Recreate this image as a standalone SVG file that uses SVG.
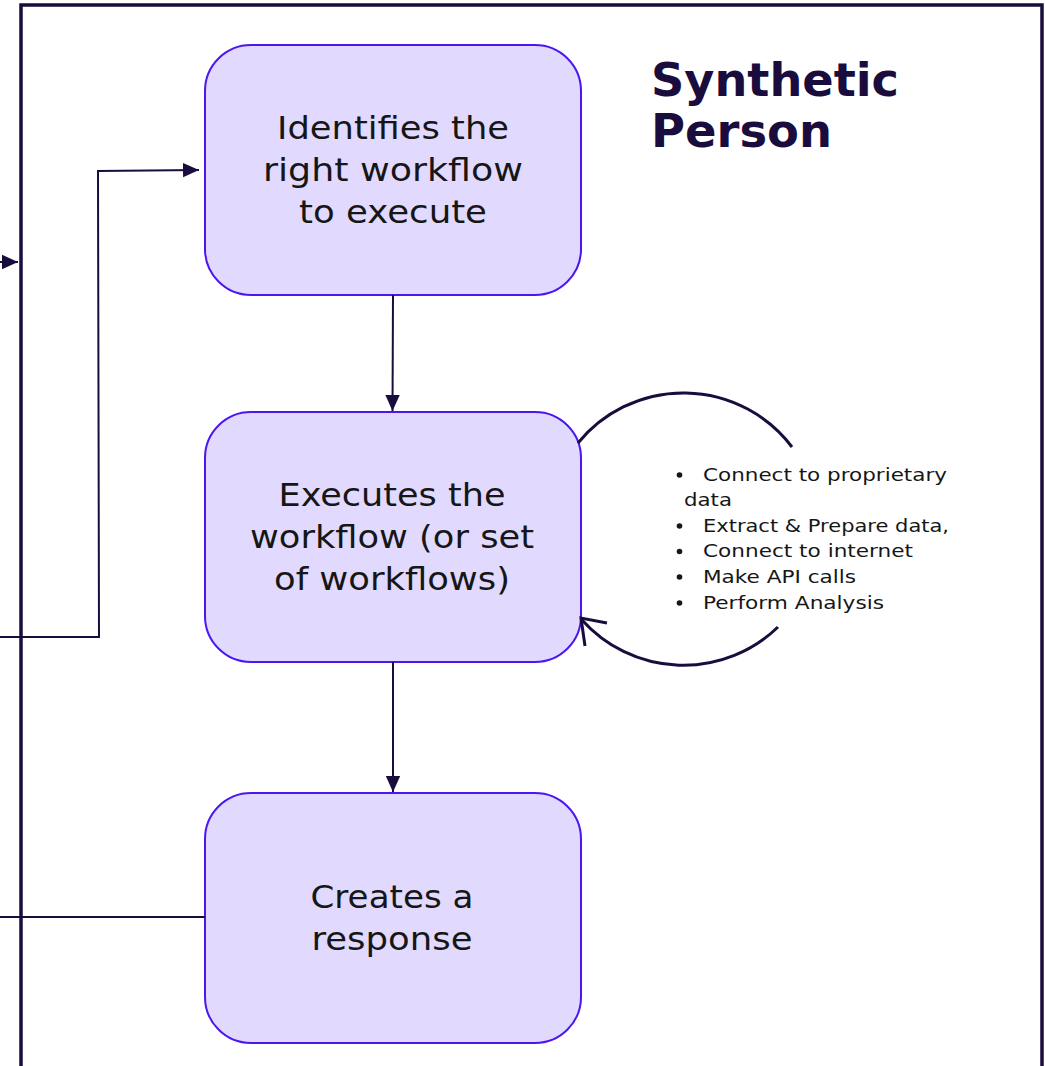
<svg xmlns="http://www.w3.org/2000/svg" width="1045" height="1066" viewBox="0 0 1045 1066">
  <style>
    .frame { fill: none; stroke: #1a0d3d; stroke-width: 3.5; }
    .node rect { fill: #e1dafe; stroke: #4c15f2; stroke-width: 2; }
    .label { font-family: "DejaVu Sans", "Open Sans", sans-serif; font-size: 32px; fill: #161616; text-anchor: middle; }
    .title { font-family: "DejaVu Sans", "Open Sans", sans-serif; font-size: 46px; font-weight: 700; fill: #1a0d3d; }
    .bullets { font-family: "DejaVu Sans", "Open Sans", sans-serif; font-size: 18px; fill: #161616; }
    .conn { fill: none; stroke: #1a0d3d; stroke-width: 2; }
    .loop { fill: none; stroke: #1a0d3d; stroke-width: 3; }
  </style>
  <defs>
    <marker id="arrow" viewBox="0 0 10 10" refX="10" refY="5" markerWidth="8" markerHeight="8" orient="auto" markerUnits="strokeWidth">
      <path d="M0,0.5 L10,5 L0,9.5 Z" fill="#1a0d3d"/>
    </marker>
  </defs>
  <rect width="1045" height="1066" fill="#ffffff"/>

  <!-- outer boundary of the Synthetic Person box -->
  <path class="frame" d="M21,1070 L21,5 L1042,5 L1042,1070"/>

  <text class="title" x="651" y="96" textLength="248" lengthAdjust="spacingAndGlyphs">Synthetic</text>
  <text class="title" x="651" y="147" textLength="181" lengthAdjust="spacingAndGlyphs">Person</text>

  <g id="node-identify" class="node">
    <rect x="205" y="45" width="376" height="250" rx="46" ry="46"/>
    <text class="label" x="393" y="139" textLength="232" lengthAdjust="spacingAndGlyphs">Identifies the</text>
    <text class="label" x="393" y="181" textLength="260" lengthAdjust="spacingAndGlyphs">right workflow</text>
    <text class="label" x="393" y="223" textLength="188" lengthAdjust="spacingAndGlyphs">to execute</text>
  </g>

  <g id="node-execute" class="node">
    <rect x="205" y="412" width="376" height="250" rx="46" ry="46"/>
    <text class="label" x="392" y="506" textLength="227" lengthAdjust="spacingAndGlyphs">Executes the</text>
    <text class="label" x="392" y="548" textLength="284" lengthAdjust="spacingAndGlyphs">workflow (or set</text>
    <text class="label" x="392" y="590" textLength="236" lengthAdjust="spacingAndGlyphs">of workflows)</text>
  </g>

  <g id="node-respond" class="node">
    <rect x="205" y="793" width="376" height="250" rx="46" ry="46"/>
    <text class="label" x="392" y="908" textLength="163" lengthAdjust="spacingAndGlyphs">Creates a</text>
    <text class="label" x="392" y="950" textLength="161" lengthAdjust="spacingAndGlyphs">response</text>
  </g>

  <g id="tasks">
    <g fill="#161616">
      <circle cx="679.5" cy="475" r="2.8"/>
      <circle cx="679.5" cy="526" r="2.8"/>
      <circle cx="679.5" cy="551.5" r="2.8"/>
      <circle cx="679.5" cy="577" r="2.8"/>
      <circle cx="679.5" cy="603" r="2.8"/>
    </g>
    <text class="bullets" x="703" y="481" textLength="244" lengthAdjust="spacingAndGlyphs">Connect to proprietary</text>
    <text class="bullets" x="684" y="506" textLength="48" lengthAdjust="spacingAndGlyphs">data</text>
    <text class="bullets" x="703" y="532" textLength="246" lengthAdjust="spacingAndGlyphs">Extract &amp; Prepare data,</text>
    <text class="bullets" x="703" y="557" textLength="210" lengthAdjust="spacingAndGlyphs">Connect to internet</text>
    <text class="bullets" x="703" y="583" textLength="153" lengthAdjust="spacingAndGlyphs">Make API calls</text>
    <text class="bullets" x="703" y="609" textLength="181" lengthAdjust="spacingAndGlyphs">Perform Analysis</text>
  </g>

  <g id="connectors">
    <!-- entry arrow into the box -->
    <line class="conn" x1="0" y1="262" x2="18" y2="262" marker-end="url(#arrow)"/>
    <!-- feedback into the first step -->
    <polyline class="conn" points="0,637 99,637 98,171 199,170" marker-end="url(#arrow)"/>
    <!-- step to step -->
    <line class="conn" x1="393" y1="295" x2="392.5" y2="411" marker-end="url(#arrow)"/>
    <line class="conn" x1="393" y1="662" x2="393" y2="792" marker-end="url(#arrow)"/>
    <!-- response leaving the box -->
    <line class="conn" x1="0" y1="917" x2="205" y2="917"/>
    <!-- iteration loop around the task list -->
    <path class="loop" d="M578,443 A136,136 0 0 1 792,447"/>
    <path class="loop" d="M778,627 A136,136 0 0 1 582,620"/>
    <path class="loop" d="M607,623 L581,618 L585,646"/>
  </g>
</svg>
